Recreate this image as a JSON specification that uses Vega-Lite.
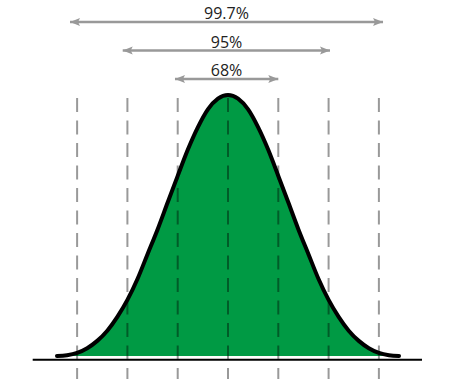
{
  "$schema": "https://vega.github.io/schema/vega-lite/v6.json",
  "width": 464,
  "height": 379,
  "padding": 0,
  "autosize": {"type": "none"},
  "background": "white",
  "config": {"view": {"stroke": null}},
  "datasets": {
    "curve": [
      {"u": -3.4, "h": 0}, {"u": -3.2, "h": 0.003}, {"u": -3.0, "h": 0.012}, {"u": -2.8, "h": 0.03},
      {"u": -2.6, "h": 0.058}, {"u": -2.4, "h": 0.097}, {"u": -2.2, "h": 0.15}, {"u": -2.0, "h": 0.215},
      {"u": -1.8, "h": 0.295}, {"u": -1.6, "h": 0.39}, {"u": -1.4, "h": 0.485}, {"u": -1.2, "h": 0.588},
      {"u": -1.0, "h": 0.69}, {"u": -0.8, "h": 0.79}, {"u": -0.6, "h": 0.876}, {"u": -0.4, "h": 0.945},
      {"u": -0.2, "h": 0.986}, {"u": 0, "h": 1},
      {"u": 0.2, "h": 0.986}, {"u": 0.4, "h": 0.945}, {"u": 0.6, "h": 0.876}, {"u": 0.8, "h": 0.79},
      {"u": 1.0, "h": 0.69}, {"u": 1.2, "h": 0.588}, {"u": 1.4, "h": 0.485}, {"u": 1.6, "h": 0.39},
      {"u": 1.8, "h": 0.295}, {"u": 2.0, "h": 0.215}, {"u": 2.2, "h": 0.15}, {"u": 2.4, "h": 0.097},
      {"u": 2.6, "h": 0.058}, {"u": 2.8, "h": 0.03}, {"u": 3.0, "h": 0.012}, {"u": 3.2, "h": 0.003},
      {"u": 3.4, "h": 0}
    ],
    "sigma": [
      {"u": -3, "top": 0.9885, "bottom": -0.1}, {"u": -2, "top": 0.9885, "bottom": -0.1},
      {"u": -1, "top": 0.9885, "bottom": -0.1}, {"u": 0, "top": 0.9885, "bottom": -0.1},
      {"u": 1, "top": 0.9885, "bottom": -0.1}, {"u": 2, "top": 0.9885, "bottom": -0.1},
      {"u": 3, "top": 0.9885, "bottom": -0.1}
    ],
    "axisline": [{"x1": -3.883, "x2": 3.857, "y": -0.0142}],
    "arrows": [
      {"label": "99.7%", "y": 1.2797, "lo": -3.141, "hi": 3.082, "mid": -0.03},
      {"label": "95%", "y": 1.1705, "lo": -2.093, "hi": 2.028, "mid": -0.03},
      {"label": "68%", "y": 1.0613, "lo": -1.054, "hi": 1.0, "mid": -0.03}
    ]
  },
  "resolve": {"scale": {"x": "shared", "y": "shared"}},
  "layer": [
    {
      "data": {"name": "curve"},
      "mark": {"type": "area", "color": "#009a44", "interpolate": "monotone"},
      "encoding": {
        "x": {"field": "u", "type": "quantitative", "scale": {"domain": [-4.533, 4.692], "nice": false, "zero": false}, "axis": null},
        "y": {"field": "h", "type": "quantitative", "scale": {"domain": [-0.0881, 1.364], "nice": false, "zero": false}, "axis": null},
        "y2": {"datum": 0}
      }
    },
    {
      "data": {"name": "sigma"},
      "mark": {"type": "rule", "color": "black", "opacity": 0.4, "strokeWidth": 2, "strokeDash": [14, 8.5]},
      "encoding": {
        "x": {"field": "u", "type": "quantitative"},
        "y": {"field": "top", "type": "quantitative"},
        "y2": {"field": "bottom"}
      }
    },
    {
      "data": {"name": "curve"},
      "mark": {"type": "line", "color": "black", "strokeWidth": 4, "interpolate": "monotone", "strokeCap": "round"},
      "encoding": {
        "x": {"field": "u", "type": "quantitative"},
        "y": {"field": "h", "type": "quantitative"}
      }
    },
    {
      "data": {"name": "axisline"},
      "mark": {"type": "rule", "color": "black", "strokeWidth": 2},
      "encoding": {
        "x": {"field": "x1", "type": "quantitative"},
        "x2": {"field": "x2"},
        "y": {"field": "y", "type": "quantitative"}
      }
    },
    {
      "data": {"name": "arrows"},
      "mark": {"type": "rule", "color": "#999999", "strokeWidth": 2.5},
      "encoding": {
        "x": {"field": "lo", "type": "quantitative"},
        "x2": {"field": "hi"},
        "y": {"field": "y", "type": "quantitative"}
      }
    },
    {
      "data": {"name": "arrows"},
      "mark": {"type": "point", "filled": true, "color": "#999999", "opacity": 1, "size": 100, "shape": "M0,0L2,-0.8L1.6,0L2,0.8Z"},
      "encoding": {
        "x": {"field": "lo", "type": "quantitative"},
        "y": {"field": "y", "type": "quantitative"}
      }
    },
    {
      "data": {"name": "arrows"},
      "mark": {"type": "point", "filled": true, "color": "#999999", "opacity": 1, "size": 100, "shape": "M0,0L-2,-0.8L-1.6,0L-2,0.8Z"},
      "encoding": {
        "x": {"field": "hi", "type": "quantitative"},
        "y": {"field": "y", "type": "quantitative"}
      }
    },
    {
      "data": {"name": "arrows"},
      "mark": {"type": "text", "font": "Open Sans", "fontSize": 16, "color": "#222222", "baseline": "alphabetic", "align": "center", "dy": -3},
      "encoding": {
        "x": {"field": "mid", "type": "quantitative"},
        "y": {"field": "y", "type": "quantitative"},
        "text": {"field": "label"}
      }
    }
  ]
}
